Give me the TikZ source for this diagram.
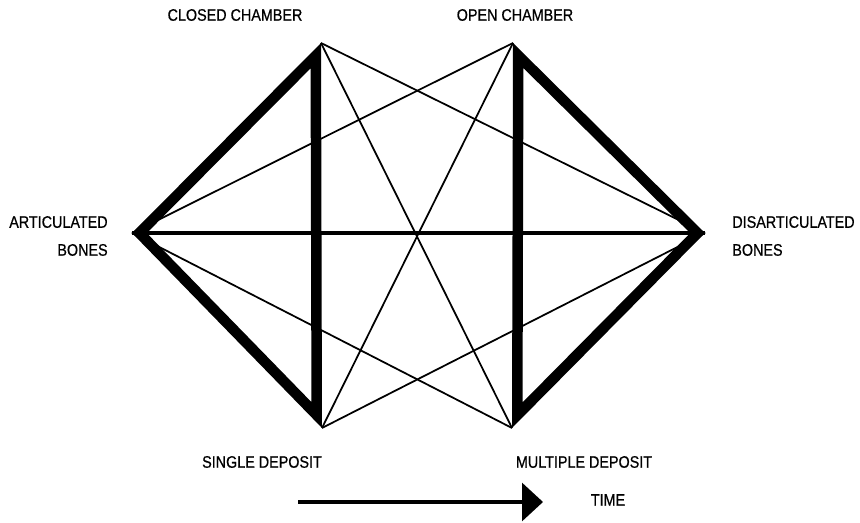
\documentclass[tikz,border=0pt]{standalone}
\usepackage{fontspec}
\newfontfamily\labelfont[FakeStretch=0.86, FakeBold=0.6]{Liberation Sans}
\usetikzlibrary{arrows.meta}
\tikzset{
  caption/.style={font=\labelfont\fontsize{9.5}{15.9}\selectfont, inner sep=0pt},
  heavy/.style={line width=0.42cm, line join=miter},
  link/.style={line width=1pt},
  axis/.style={line width=2pt},
  timearrow/.style={-{Triangle[length=0.42cm, width=0.76cm]}, line width=1.8pt},
}

\begin{document}
\begin{tikzpicture}[x=0.02cm, y=-0.02cm]
  \useasboundingbox (0,0) rectangle (860,523);

  % corners of the two triangles
  \coordinate (artic) at (132,233);
  \coordinate (closed) at (321,43);
  \coordinate (single) at (322,428);
  \coordinate (opened) at (513,43);
  \coordinate (multiple) at (512,428);
  \coordinate (disart) at (705,233);

  % thin cross links
  \draw[link] (closed) -- (multiple);
  \draw[link] (closed) -- (disart);
  \draw[link] (opened) -- (single);
  \draw[link] (opened) -- (artic);
  \draw[link] (single) -- (disart);
  \draw[link] (multiple) -- (artic);
  \draw[axis] (artic) -- (disart);

  % heavy triangles, drawn inside their corners
  \begin{scope}
    \clip (artic) -- (closed) -- (single) -- cycle;
    \draw[heavy] (artic) -- (closed) -- (single) -- cycle;
  \end{scope}
  \begin{scope}
    \clip (disart) -- (opened) -- (multiple) -- cycle;
    \draw[heavy] (disart) -- (opened) -- (multiple) -- cycle;
  \end{scope}

  \node (closedlabel) [caption] at (235,15) {CLOSED CHAMBER};
  \node (openlabel) [caption] at (515,15) {OPEN CHAMBER};
  \node (articlabel) [caption, anchor=east, align=right] at (108,236) {ARTICULATED\\BONES};
  \node (disartlabel) [caption, anchor=west, align=left] at (732,236) {DISARTICULATED\\BONES};
  \node (singlelabel) [caption] at (262,462) {SINGLE DEPOSIT};
  \node (multilabel) [caption] at (584,462) {MULTIPLE DEPOSIT};

  \coordinate (tstart) at (298,502);
  \coordinate (tend) at (543,502);
  \draw[timearrow] (tstart) -- (tend);
  \node (timelabel) [caption] at (608,500) {TIME};
\end{tikzpicture}
\end{document}
